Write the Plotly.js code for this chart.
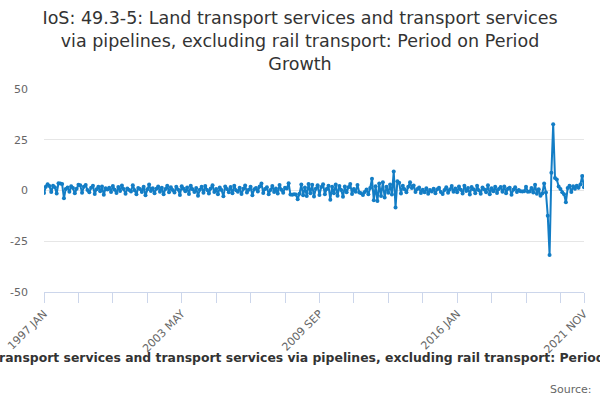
<!DOCTYPE html>
<html>
<head>
<meta charset="utf-8">
<script src="https://cdn.plot.ly/plotly-3.0.1.min.js"></script>
<style>
  html, body { margin: 0; padding: 0; background: #fff; }
  #chart { width: 600px; height: 400px; }
</style>
</head>
<body>
<div id="chart"></div>
<script>
// month names used for the category labels
var monthNames = ["JAN", "FEB", "MAR", "APR", "MAY", "JUN", "JUL", "AUG", "SEP", "OCT", "NOV", "DEC"];
var firstYear = 1997;

// period on period growth (%), one row per year
var growth = [
  -1.2, 1.8, 3.1, 2.2, -0.8, 2.4, 1.6, -1.5, 3.6, 3.4, 3.2, -3.8,      // 1997
  0.8, 1.5, -0.6, 2.1, 1.2, -1.4, 0.9, 2.8, 2.6, -1.1, 1.9, 2.7,       // 1998
  0.2, -0.9, 1.4, 2.3, -1.7, 0.6, 1.8, -0.4, 2.0, -2.1, 1.1, 0.5,      // 1999
  1.3, -0.7, 2.2, 0.4, -1.2, 1.7, -0.3, 2.5, 0.8, -1.6, 1.0, 0.3,      // 2000
  -0.5, 2.6, 0.1, -1.9, 1.2, 0.7, -0.8, 1.9, -2.4, 0.6, 2.9, -0.2,     // 2001
  1.1, -1.3, 0.9, 2.0, -0.6, 1.4, -1.8, 0.7, 2.4, -0.9, 1.6, 0.2,      // 2002
  -1.0, 1.8, 0.5, -2.2, 2.1, 0.9, -0.4, 1.5, -1.7, 2.3, 0.6, -0.8,     // 2003
  1.2, -2.6, 0.4, 1.9, -1.1, 2.2, 0.3, -1.5, 1.0, 2.6, -0.7, 0.8,      // 2004
  -1.9, 1.5, 0.2, -2.8, 2.0, 0.7, -0.9, 1.7, -1.4, 2.4, 0.1, -0.6,     // 2005
  1.3, -1.7, 0.9, 2.5, -1.0, 0.4, 1.8, -2.3, 0.6, 1.2, -0.5, 2.0,      // 2006
  3.4, -1.2, 0.8, 1.6, -1.9, 0.3, 2.2, -0.7, 1.0, -1.5, 2.7, 0.4,      // 2007
  -1.1, 1.4, 1.0, 3.6, -2.0, -2.1, -1.9, -2.0, -4.3, -1.6, 2.9, -2.4,  // 2008
  1.5, -2.7, 3.2, -1.3, 2.8, -3.0, 0.9, 2.6, -2.2, 1.7, 3.1, -1.8,     // 2009
  0.7, 2.4, -4.5, 1.9, -1.4, 3.0, -2.6, 2.2, 0.3, -3.1, 2.0, -0.9,     // 2010
  1.6, 3.2, -1.7, 0.8, -0.6, 2.7, -1.0, -1.3, -2.2, -0.8, 0.5, -1.9,   // 2011
  1.2, 5.8, -4.8, 2.1, -5.2, 3.4, -2.7, 4.1, -3.5, 1.8, -1.1, 2.9,     // 2012
  -2.0, 9.3, -8.4, 4.6, 3.8, -1.5, 2.4, 0.6, -0.9, 1.8, 4.1, 1.2,      // 2013
  2.5, -0.7, 0.8, 1.5, -1.2, 0.4, -0.9, 1.1, -1.6, 0.2, -0.5, 0.9,     // 2014
  -1.4, 0.6, 1.3, -0.8, -1.7, 0.2, 1.6, -1.1, 0.5, 2.2, -0.6, 1.0,     // 2015
  -0.9, 2.0, 0.4, -1.5, 2.4, -0.3, 1.2, -2.0, 1.7, 0.6, -1.3, 2.3,     // 2016
  0.1, -1.6, 1.5, 0.5, -0.9, 2.6, -1.8, 1.1, -0.4, 1.9, -1.2, 0.8,     // 2017
  1.7, -0.6, 2.0, -1.4, 0.9, 1.3, -2.1, 0.4, 1.6, -0.7, 0.3, -0.4,     // 2018
  -0.5, -0.4, 1.9, -0.6, -0.5, 1.2, -1.0, 2.8, -1.6, 0.6, -2.6, -1.5,  // 2019
  3.5, -1.0, -12.4, -31.8, 8.8, 32.6, 6.2, 5.4, 2.0, 0.8, -0.9, -1.8,  // 2020
  -5.8, 1.2, 2.3, -0.8, 2.1, 0.9, 2.4, 1.3, 3.0, 7.2, 1.6              // 2021
];

// category labels "1997 JAN" ... one per value
var periods = [];
for (var i = 0; i < growth.length; i++) {
  periods.push((firstYear + Math.floor(i / 12)) + " " + monthNames[i % 12]);
}

// ticks every 19 months, labelled every 4th tick, plus the last period
var tickVals = [];
var tickText = [];
for (var t = 0; t < periods.length - 1; t += 19) {
  tickVals.push(periods[t]);
  tickText.push(t % 76 === 0 ? periods[t] : "");
}
tickVals.push(periods[periods.length - 1]);
tickText.push(periods[periods.length - 1]);

var yTicks = [-50, -25, 0, 25, 50];

var fullTitle = "IoS: 49.3-5: Land transport services and transport services via pipelines, excluding rail transport: Period on Period Growth";

var trace = {
  x: periods,
  y: growth,
  type: "scatter",
  mode: "lines+markers",
  line: { color: "#137dc5", width: 2 },
  marker: { color: "#137dc5", size: 4 },
  hoverinfo: "x+y"
};

var layout = {
  width: 600,
  height: 400,
  margin: { l: 44, r: 16, t: 89, b: 108 },
  paper_bgcolor: "#ffffff",
  plot_bgcolor: "#ffffff",
  font: { family: "DejaVu Sans, sans-serif", color: "#666666", size: 11 },
  showlegend: false,
  title: {
    text: "IoS: 49.3-5: Land transport services and transport services<br>via pipelines, excluding rail transport: Period on Period<br>Growth",
    font: { family: "DejaVu Sans, sans-serif", size: 17.5, color: "#333333" },
    x: 0.5,
    xanchor: "center",
    y: 0.94,
    yanchor: "top"
  },
  xaxis: {
    type: "category",
    range: [0, periods.length - 1],
    tickmode: "array",
    tickvals: tickVals,
    ticktext: tickText,
    tickangle: -45,
    ticks: "outside",
    ticklen: 10,
    tickcolor: "#ccd6eb",
    showline: true,
    linecolor: "#ccd6eb",
    linewidth: 1,
    showgrid: false,
    zeroline: false,
    tickfont: { size: 11, color: "#666666" },
    fixedrange: true
  },
  yaxis: {
    range: [-50, 50],
    tickmode: "array",
    tickvals: yTicks,
    ticktext: yTicks.map(String),
    showgrid: true,
    gridcolor: "#e6e6e6",
    gridwidth: 1,
    zeroline: false,
    showline: false,
    ticks: "",
    ticklabelstandoff: 15,
    tickfont: { size: 11, color: "#666666" },
    fixedrange: true
  },
  annotations: [
    {
      text: "<b>" + fullTitle + "</b>",
      xref: "paper",
      yref: "paper",
      x: (300 - 44) / 540,
      y: -0.325,
      xanchor: "center",
      yanchor: "middle",
      showarrow: false,
      font: { family: "DejaVu Sans, sans-serif", size: 12.4, color: "#333333" }
    },
    {
      text: "Source:",
      xref: "paper",
      yref: "paper",
      x: 1.018,
      y: -0.48,
      xanchor: "right",
      yanchor: "middle",
      showarrow: false,
      font: { family: "DejaVu Sans, sans-serif", size: 11, color: "#666666" }
    }
  ]
};

Plotly.newPlot("chart", [trace], layout, { displayModeBar: false, staticPlot: true });
</script>
</body>
</html>
